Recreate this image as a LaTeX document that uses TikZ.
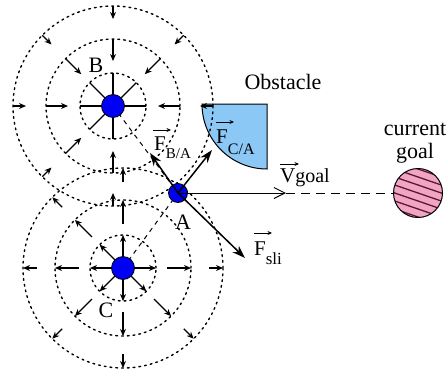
\documentclass[tikz,border=0pt]{standalone}
\usepackage{fontspec}
\setmainfont{Liberation Serif}
\usetikzlibrary{arrows.meta,calc}

\definecolor{robotblue}{RGB}{0,0,245}
\definecolor{obstblue}{RGB}{140,200,245}
\definecolor{goalpink}{RGB}{242,165,195}
\definecolor{stripe}{RGB}{90,25,50}

\tikzset{
  ring/.style={line width=1.4pt, dash pattern=on 1.8pt off 4pt, line cap=round},
  fieldarrow/.style={line width=1.2pt, -{Stealth[length=7pt,width=6pt]}},
  spoke/.style={line width=1.2pt},
  link/.style={line width=1pt, dash pattern=on 4.5pt off 4.5pt},
  force/.style={line width=1.5pt, -{Stealth[length=13pt,width=9pt]}},
  velocity/.style={line width=1pt, -{Straight Barb[length=11pt,width=11pt]}},
  goalpath/.style={line width=1pt, dash pattern=on 9pt off 6pt},
  robot/.style={circle, draw=black, fill=robotblue, line width=0.8pt, inner sep=0pt},
  obstacle/.style={draw=black, fill=obstblue, line width=1pt},
  lbl/.style={inner sep=0pt, font=\fontsize{22}{23}\selectfont},
  veclbl/.style={inner sep=0pt, anchor=base west, font=\fontsize{21}{22}\selectfont},
  overarrow/.style={line width=0.9pt, -{Stealth[length=4.5pt,width=4pt]}},
}
% subscript set lower than the letter by #1, at size #2
\newcommand{\lowsub}[3]{\raisebox{-#1}{\fontsize{#2}{#2}\selectfont #3}}

\begin{document}
\begin{tikzpicture}[x=1pt,y=-1pt]
\useasboundingbox (0,0) rectangle (447,378);

% quarter-disc obstacle
\draw[obstacle] (202,104) -- (267,104) -- (267,169)
  arc[start angle=-90, end angle=-180, radius=65pt] -- cycle;

% robot positions
\coordinate (Bc) at (113,106);
\coordinate (Cc) at (123,268);
\coordinate (Ac) at (178,193);

% potential rings
\foreach \r in {33,67,100} \draw[ring] (Bc) circle[radius=\r pt];
\foreach \r in {33,68,100} \draw[ring] (Cc) circle[radius=\r pt];

% attractive field of B (arrows point inwards)
\foreach \a in {0,90,135,180,225,270,315} {
  \draw[spoke] (Bc) -- ($(Bc)+(\a:33)$);
  \draw[fieldarrow] ($(Bc)+(\a:67)$) -- ($(Bc)+(\a:45)$);
  \draw[fieldarrow] ($(Bc)+(\a:100)$) -- ($(Bc)+(\a:87)$);
}

% repulsive field of C (arrows point outwards)
\foreach \a in {0,45,90,135,180,225,270} {
  \draw[fieldarrow] (Cc) -- ($(Cc)+(\a:33)$);
  \draw[fieldarrow] ($(Cc)+(\a:44)$) -- ($(Cc)+(\a:68)$);
  \draw[fieldarrow] ($(Cc)+(\a:86)$) -- ($(Cc)+(\a:100)$);
}

% links between the robots
\draw[link] (Bc) -- (Ac);
\draw[link] (Cc) -- (Ac);

% robots
\node[robot, minimum size=23pt] (B) at (Bc) {};
\node[robot, minimum size=23pt] (C) at (Cc) {};
\node[robot, minimum size=19pt] (A) at (Ac) {};

% forces acting on A
\coordinate (fba) at (150,153);
\coordinate (fca) at (212,150);
\coordinate (fsli) at (245,258);
\coordinate (vtip) at (286,193);
\draw[force] (A.center) -- (fba);
\draw[force] (A.center) -- (fca);
\draw[force] (A.center) -- (fsli);
\draw[velocity] (A.center) -- (vtip);

% current goal
\node[circle, draw=black, fill=goalpink, line width=1pt, minimum size=49pt,
  inner sep=0pt,
  path picture={
    \foreach \k in {-4,...,4}
      \draw[stripe, line width=1.3pt]
        ($(path picture bounding box.center)+(-32,\k*8-11)$) -- ++(64,22);
  }] (G) at (418,193) {};
\draw[goalpath] (vtip) -- (G);

% labels
\node[lbl] (lB) at (96,65) {B};
\node[lbl] (lA) at (183,222) {A};
\node[lbl] (lC) at (106,310) {C};
\node[lbl] (lObs) at (283,82) {Obstacle};
\node[lbl, align=center] (lGoal) at (415,143) {current\\goal};

\node[veclbl] (lFba) at (154,150) {F\lowsub{8pt}{15}{B/A}};
\node[veclbl] (lFca) at (216,143) {F\lowsub{11pt}{16}{C/A}};
\node[veclbl] (lV) at (280,182) {V\lowsub{0pt}{20}{goal}};
\node[veclbl] (lFs) at (254,255) {F\lowsub{9pt}{17}{sli}};

% vector arrows over the symbols
\draw[overarrow] ($(lFba.base west)+(-1,-20)$) -- ++(18,0);
\draw[overarrow] ($(lFca.base west)+(0,-21)$) -- ++(18,0);
\draw[overarrow] ($(lV.base west)+(0,-18)$) -- ++(19,0);
\draw[overarrow] ($(lFs.base west)+(0,-22)$) -- ++(18,0);
\end{tikzpicture}
\end{document}
